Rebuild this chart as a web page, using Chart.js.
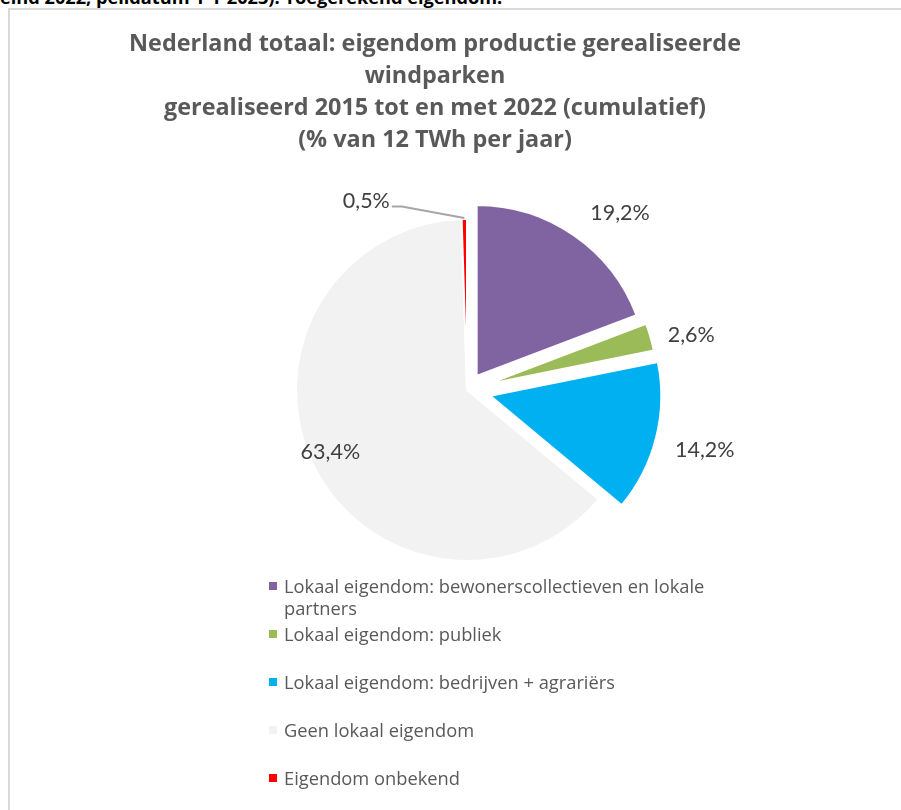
<!DOCTYPE html>
<html lang="nl">
<head>
<meta charset="utf-8">
<title>Nederland totaal: eigendom productie gerealiseerde windparken</title>
<script src="https://cdn.jsdelivr.net/npm/chart.js@4.4.1/dist/chart.umd.min.js"></script>
<style>
  html, body { margin: 0; padding: 0; background: #fff; }
  body { width: 901px; height: 810px; position: relative; overflow: hidden; font-family: "Open Sans", sans-serif; }
  #caption { position: absolute; left: 0; top: -15px; font: bold 18.2px "Open Sans", sans-serif; color: #000; white-space: nowrap; }
  #frame { position: absolute; left: 8px; top: 8px; right: -20px; bottom: -20px; border-left: 2px solid #d9d9d9; border-top: 2px solid #d9d9d9; }
  #title { position: absolute; left: 10px; width: 850px; top: 26px; text-align: center; font: bold 23.4px/32px "Open Sans", sans-serif; color: #595959; }
  #chartBox { position: absolute; left: 0; top: 0; width: 901px; height: 810px; }
  #legend { position: absolute; left: 269px; top: 575px; width: 470px; }
  #legend .item { display: flex; align-items: flex-start; height: 48px; }
  #legend .box { width: 8px; height: 8px; margin: 7px 7px 0 0; flex: none; }
  #legend .txt { font: 18.3px/22px "Open Sans", sans-serif; color: #595959; }
</style>
</head>
<body>
<div id="caption">eind 2022, peildatum 1-1-2023). Toegerekend eigendom.</div>
<div id="frame"></div>
<div id="chartBox"><canvas id="pieChart"></canvas></div>
<div id="title">Nederland totaal: eigendom productie gerealiseerde<br>windparken<br>gerealiseerd 2015 tot en met 2022 (cumulatief)<br>(% van 12 TWh per jaar)</div>
<div id="legend"></div>
<script>
// categories and shares (% of 12 TWh per year)
const categories = [
    'Lokaal eigendom: bewonerscollectieven en lokale partners',
    'Lokaal eigendom: publiek',
    'Lokaal eigendom: bedrijven + agrariërs',
    'Geen lokaal eigendom',
    'Eigendom onbekend'
];
const shares = [19.2, 2.6, 14.2, 63.4, 0.5];
const sliceColors = ['#8064a2', '#9bbb59', '#00b0f0', '#f2f2f2', '#ff0000'];

// push some slices out from the centre (pixels)
const explodePlugin = {
    id: 'explode',
    afterDatasetUpdate(chart, args, opts) {
        args.meta.data.forEach((arc, i) => {
            const d = opts.distance[i] || 0;
            const mid = (arc.startAngle + arc.endAngle) / 2;
            arc.x += Math.cos(mid) * d;
            arc.y += Math.sin(mid) * d;
        });
    }
};

// percentage labels placed around the pie
const pieLabels = {
    id: 'pieLabels',
    afterDatasetsDraw(chart, args, opts) {
        const ctx = chart.ctx;
        const area = chart.chartArea;
        const cx = (area.left + area.right) / 2;
        const cy = (area.top + area.bottom) / 2;
        const meta = chart.getDatasetMeta(0);
        ctx.save();
        ctx.font = opts.font;
        ctx.fillStyle = opts.color;
        ctx.textAlign = 'center';
        ctx.textBaseline = 'middle';
        meta.data.forEach((arc, i) => {
            const place = opts.place[i];
            const r = arc.outerRadius;
            const a = (arc.startAngle + arc.endAngle) / 2 + place.shift * Math.PI / 180;
            const lx = cx + Math.cos(a) * r * place.dist;
            const ly = cy + Math.sin(a) * r * place.dist;
            const text = chart.data.datasets[0].data[i].toFixed(1).replace('.', ',') + '%';
            ctx.fillText(text, lx, ly);
            if (place.leader) {
                const mid = (arc.startAngle + arc.endAngle) / 2;
                const w = ctx.measureText(text).width;
                ctx.strokeStyle = '#a6a6a6';
                ctx.lineWidth = 2;
                ctx.beginPath();
                ctx.moveTo(lx + w / 2 + 2, ly + 5);
                ctx.lineTo(lx + w / 2 + 12, ly + 5);
                ctx.lineTo(arc.x + Math.cos(mid) * (r + 1), arc.y + Math.sin(mid) * (r + 1));
                ctx.stroke();
            }
        });
        ctx.restore();
    }
};

const chart = new Chart(document.getElementById('pieChart'), {
    type: 'pie',
    data: {
        labels: categories,
        datasets: [{
            data: shares,
            backgroundColor: sliceColors,
            borderColor: '#ffffff',
            borderWidth: 2
        }]
    },
    options: {
        responsive: true,
        maintainAspectRatio: false,
        animation: false,
        radius: 171,
        layout: { padding: { left: 260, right: 227, top: 183, bottom: 213 } },
        plugins: {
            legend: { display: false },
            title: { display: false },
            tooltip: { enabled: false },
            explode: { distance: [17, 20, 24, 0, 0] },
            pieLabels: {
                font: '21.5px Lato, sans-serif',
                color: '#404040',
                place: [
                    { shift: 6.2, dist: 1.37 },
                    { shift: 2.4, dist: 1.35 },
                    { shift: 0, dist: 1.434 },
                    { shift: 1.7, dist: 0.877 },
                    { shift: -27.2, dist: 1.25, leader: true }
                ]
            }
        }
    },
    plugins: [explodePlugin, pieLabels]
});

// legend built from the chart's own labels and colours
const legendEl = document.getElementById('legend');
chart.data.labels.forEach((label, i) => {
    const item = document.createElement('div');
    item.className = 'item';
    const box = document.createElement('span');
    box.className = 'box';
    box.style.background = chart.data.datasets[0].backgroundColor[i];
    const txt = document.createElement('span');
    txt.className = 'txt';
    txt.textContent = label;
    item.appendChild(box);
    item.appendChild(txt);
    legendEl.appendChild(item);
});
</script>
</body>
</html>
